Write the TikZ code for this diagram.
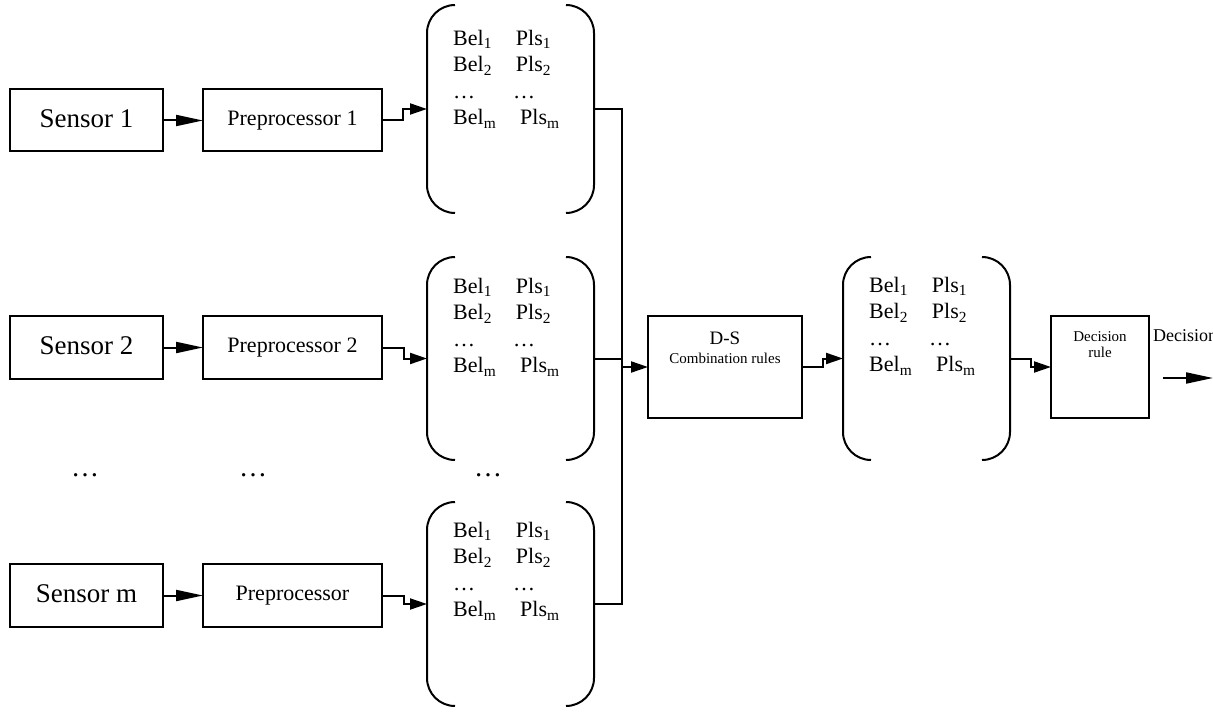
\documentclass[tikz,border=0pt]{standalone}
\usepackage{fontspec}
\setmainfont{Liberation Serif}
\usetikzlibrary{arrows.meta}
\newcommand\BelPls{Bel\textsubscript{1}\hspace{24pt}Pls\textsubscript{1}\\
Bel\textsubscript{2}\hspace{24pt}Pls\textsubscript{2}\\
…\hspace{38pt}…\\
Bel\textsubscript{m}\hspace{24pt}Pls\textsubscript{m}}
\tikzset{
 box/.style={draw, line width=2pt, anchor=north west, inner sep=0pt, outer sep=0pt},
 sensorbox/.style={box, minimum width=153pt, font=\fontsize{27}{27}\selectfont},
 prebox/.style={box, minimum width=179pt, font=\fontsize{22}{22}\selectfont},
 matframe/.style={anchor=north west, inner sep=0pt, outer sep=0pt, minimum width=167pt},
 bracket/.style={draw, line width=2pt, rounded corners=28pt},
 mattext/.style={anchor=north west, inner sep=0pt, align=left, font=\fontsize{22}{26.5}\selectfont},
 conn/.style={line width=2pt},
 tipS/.style={conn, -{Triangle[length=17pt,width=11pt]}},
 tipL/.style={conn, -{Triangle[length=27pt,width=11pt]}},
 dotsnode/.style={anchor=base, inner sep=0pt, font=\fontsize{28}{28}\selectfont},
 smalltext/.style={anchor=base, inner sep=0pt, font=\fontsize{15}{15}\selectfont},
}
\begin{document}
\begin{tikzpicture}[x=1pt,y=-1pt]
\useasboundingbox (0,0) rectangle (1213,714);
% sensors
\node[sensorbox, minimum height=62pt] (s1) at (10,89.5) {\raisebox{4pt}{Sensor 1}};
\node[sensorbox, minimum height=63pt] (s2) at (10,316) {\raisebox{4pt}{Sensor 2}};
\node[sensorbox, minimum height=63pt] (sm) at (10,564) {\raisebox{4pt}{Sensor m}};
% preprocessors
\node[prebox, minimum height=62pt] (p1) at (203,89.5) {\raisebox{5pt}{Preprocessor 1}};
\node[prebox, minimum height=63pt] (p2) at (203,316) {\raisebox{5pt}{Preprocessor 2}};
\node[prebox, minimum height=63pt] (pm) at (203,564) {\raisebox{5pt}{Preprocessor}};
% matrices
\node[matframe, minimum height=208pt] (m1) at (427,5) {};
\node[matframe, minimum height=203pt] (m2) at (427,257) {};
\node[matframe, minimum height=204pt] (m3) at (427,502) {};
\node[matframe, minimum height=203pt] (m4) at (843,257) {};
\foreach \m in {m1,m2,m3,m4}{
  \draw[bracket] ([xshift=28pt]\m.north west) -- (\m.north west) -- (\m.south west) -- ([xshift=28pt]\m.south west);
  \draw[bracket] ([xshift=-28pt]\m.north east) -- (\m.north east) -- (\m.south east) -- ([xshift=-28pt]\m.south east);
}
\node[mattext] (t1) at (453,30) {\BelPls};
\node[mattext] (t2) at (453,278) {\BelPls};
\node[mattext] (t3) at (453,522) {\BelPls};
\node[mattext] (t4) at (869,277) {\BelPls};
% D-S box
\node[box, minimum width=154pt, minimum height=102pt] (ds) at (648,316) {};
\node[anchor=base, inner sep=0pt, font=\fontsize{19}{19}\selectfont] (dsa) at ([yshift=-28pt]ds.north) {D-S};
\node[smalltext] (dsb) at ([yshift=-47pt]ds.north) {Combination rules};
% decision rule box
\node[box, minimum width=98pt, minimum height=102pt] (dr) at (1051,316) {};
\node[smalltext] (dra) at ([yshift=-25pt]dr.north) {Decision};
\node[smalltext] (drb) at ([yshift=-41pt]dr.north) {rule};
% dots
\node[dotsnode] (d1) at (85,476) {…};
\node[dotsnode] (d2) at (253,476) {…};
\node[dotsnode] (d3) at (488,476) {…};
% sensor -> preprocessor
\draw[tipL] (s1.east) -- (p1.west);
\draw[tipL] (s2.east) -- (p2.west);
\draw[tipL] (sm.east) -- (pm.west);
% preprocessor -> matrix
\draw[tipS] (p1.east) -- ++(21,0) |- (m1.west);
\draw[tipS] (p2.east) -- ++(22,0) |- (m2.west);
\draw[tipS] (pm.east) -- ++(22,0) |- (m3.west);
% bus
\coordinate (bus) at (622,0);
\draw[conn] (m1.east) -- (m1.east -| bus) -- (m3.east -| bus) -- (m3.east);
\draw[conn] (m2.east) -- (m2.east -| bus);
\draw[tipS] (bus |- ds.west) -- (ds.west);
% D-S -> m4 -> decision
\draw[tipS] (ds.east) -- ++(21,0) |- (m4.west);
\draw[tipS] (m4.east) -- ++(21,0) |- (dr.west);
% output
\coordinate (o1) at (1163,378);
\coordinate (o2) at (1213,378);
\draw[tipL] (o1) -- (o2);
\node[anchor=base west, inner sep=0pt, font=\fontsize{18}{18}\selectfont] (declab) at (1153,341) {Decision};
\end{tikzpicture}
\end{document}
